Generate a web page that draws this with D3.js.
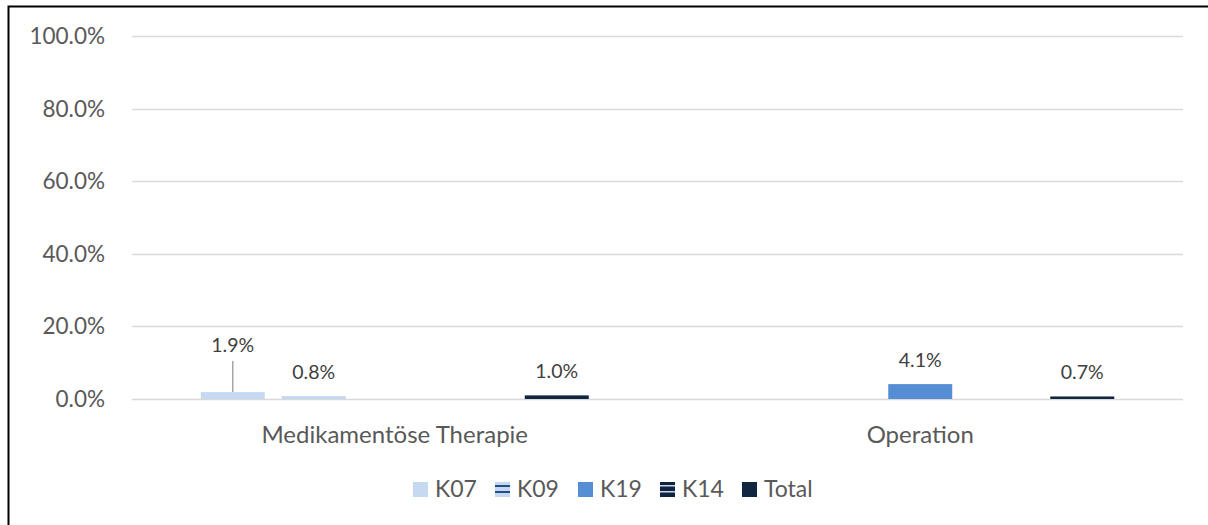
<!DOCTYPE html>
<html lang="de">
<head>
  <meta charset="utf-8">
  <title>Chart</title>
  <script src="https://cdn.jsdelivr.net/npm/d3@7"></script>
  <style>
    body { margin: 0; background: #fff; }
    text { font-family: Lato, "Open Sans", sans-serif; fill: #595959; }
  </style>
</head>
<body>
<script>
// data
var categories = ["Medikamentöse Therapie", "Operation"];
var seriesNames = ["K07", "K09", "K19", "K14", "Total"];
var K07 = [0.019, null];
var K09 = [0.008, null];
var K19 = [null, 0.041];
var K14 = [null, null];
var Total = [0.010, 0.007];
var yTicks = [0, 0.2, 0.4, 0.6, 0.8, 1.0];

var seriesValues = [K07, K09, K19, K14, Total];

var width = 1208, height = 525;
var plotLeft = 132, plotRight = 1183, plotTop = 36, plotBottom = 399;

var svg = d3.select("body").append("svg")
  .attr("width", width)
  .attr("height", height);

// patterns for the striped series
var defs = svg.append("defs");
var p1 = defs.append("pattern").attr("id", "stripeK09")
  .attr("patternUnits", "userSpaceOnUse").attr("width", 8).attr("height", 6);
p1.append("rect").attr("width", 8).attr("height", 6).attr("fill", "#c5d8ef");
p1.append("rect").attr("y", 3).attr("width", 8).attr("height", 2).attr("fill", "#1f4e8c");
var p2 = defs.append("pattern").attr("id", "stripeK14")
  .attr("patternUnits", "userSpaceOnUse").attr("width", 8).attr("height", 6);
p2.append("rect").attr("width", 8).attr("height", 6).attr("fill", "#0f2340");
p2.append("rect").attr("y", 3).attr("width", 8).attr("height", 1.5).attr("fill", "#c5d8ef");

var colors = ["#c5d9f0", "url(#stripeK09)", "#558ed5", "url(#stripeK14)", "#112641"];

// outer border (only top and left edges are inside the picture)
svg.append("rect")
  .attr("x", 8.5).attr("y", 6.5)
  .attr("width", 1220).attr("height", 540)
  .attr("fill", "none").attr("stroke", "#000").attr("stroke-width", 2);

var x0 = d3.scaleBand().domain(categories).range([plotLeft, plotRight]);
// 64px bars with 17px gaps, centred in each group
var x1 = d3.scaleBand().domain(seriesNames)
  .range([68.75, x0.bandwidth() - 68.75]).paddingInner(17 / 81);

var y = d3.scaleLinear().domain([0, 1]).range([plotBottom, plotTop]);

// grid
svg.append("g").selectAll("line")
  .data(yTicks)
  .enter().append("line")
  .attr("x1", plotLeft).attr("x2", plotRight)
  .attr("y1", function(d) { return Math.round(y(d)) + 0.5; })
  .attr("y2", function(d) { return Math.round(y(d)) + 0.5; })
  .attr("stroke", "#d9d9d9").attr("stroke-width", 1.5);

// y labels
svg.append("g").selectAll("text")
  .data(yTicks)
  .enter().append("text")
  .attr("x", 105)
  .attr("y", function(d) { return y(d) + 8; })
  .attr("text-anchor", "end")
  .style("font-size", "22.5px")
  .text(function(d) { return d3.format(".1%")(d); });

// category labels
svg.append("g").selectAll("text")
  .data(categories)
  .enter().append("text")
  .attr("x", function(d) { return x0(d) + x0.bandwidth() / 2; })
  .attr("y", 443)
  .attr("text-anchor", "middle")
  .style("font-size", "24px")
  .text(function(d) { return d; });

// bars
var bars = [];
seriesNames.forEach(function(s, si) {
  categories.forEach(function(c, ci) {
    var v = seriesValues[si][ci];
    if (v !== null) bars.push({ series: s, si: si, cat: c, value: v });
  });
});

svg.append("g").selectAll("rect")
  .data(bars)
  .enter().append("rect")
  .attr("x", function(d) { return x0(d.cat) + x1(d.series); })
  .attr("y", function(d) { return y(d.value); })
  .attr("width", x1.bandwidth())
  .attr("height", function(d) { return plotBottom - y(d.value); })
  .attr("fill", function(d) { return colors[d.si]; });

// data labels; the 1.9% label is lifted with a leader line
var labelLift = { "K07|Medikamentöse Therapie": 23 };
var labels = svg.append("g");
bars.forEach(function(d) {
  var cx = x0(d.cat) + x1(d.series) + x1.bandwidth() / 2;
  var lift = labelLift[d.series + "|" + d.cat] || 0;
  var ly = y(d.value) - 17 - lift;
  if (lift) {
    labels.append("line")
      .attr("x1", cx).attr("x2", cx)
      .attr("y1", y(d.value)).attr("y2", ly + 9)
      .attr("stroke", "#a6a6a6").attr("stroke-width", 1.5);
  }
  labels.append("text")
    .attr("x", cx).attr("y", ly)
    .attr("text-anchor", "middle")
    .style("font-size", "19.5px")
    .style("fill", "#404040")
    .text(d3.format(".1%")(d.value));
});

// legend
var legendX = [413, 495, 578, 660, 742];
var legend = svg.append("g").selectAll("g")
  .data(seriesNames)
  .enter().append("g")
  .attr("transform", function(d, i) { return "translate(" + legendX[i] + ",482)"; });
legend.append("rect")
  .attr("width", 15).attr("height", 15)
  .attr("fill", function(d, i) { return colors[i]; });
legend.append("text")
  .attr("x", 22).attr("y", 15)
  .style("font-size", "23px")
  .text(function(d) { return d; });
</script>
</body>
</html>
